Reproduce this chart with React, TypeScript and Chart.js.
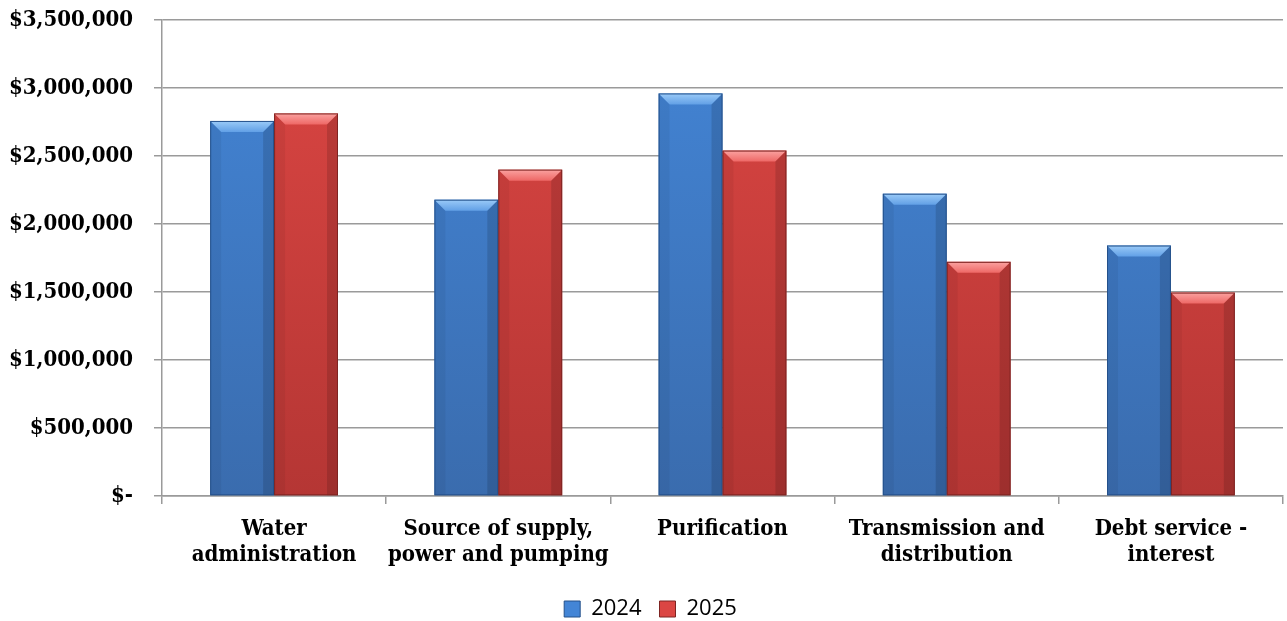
import { useEffect, useRef } from "react";
import { Chart, registerables } from "chart.js";

Chart.register(...registerables);

const categories: string[][] = [
  ["Water", "administration"],
  ["Source of supply,", "power and pumping"],
  ["Purification"],
  ["Transmission and", "distribution"],
  ["Debt service -", "interest"],
];
const seriesNames = ["2024", "2025"];
const values2024 = [2758000, 2179000, 2960000, 2223000, 1842000];
const values2025 = [2813000, 2400000, 2540000, 1722000, 1496000];
const yMax = 3500000;
const yStep = 500000;

const palettes = [
  { main: "#4385D6", bottom: "#3A6CAE", topLight: "#9BCBF8", top: "#62A0E6", dark: "#24508A" },
  { main: "#DB4643", bottom: "#B53634", topLight: "#FBA3A1", top: "#EE6866", dark: "#7E2422" },
];

const SERIF = "'DejaVu Serif Condensed', 'DejaVu Serif', serif";

const bevelPlugin = {
  id: "bevel",
  afterLayout(chart: any) {
    const lg = chart.legend;
    if (lg) {
      lg.left += 9;
      lg.right += 9;
    }
  },
  afterDatasetsDraw(chart: any) {
    const ctx = chart.ctx as CanvasRenderingContext2D;
    chart.data.datasets.forEach((_ds: any, di: number) => {
      const meta = chart.getDatasetMeta(di);
      const pal = palettes[di];
      meta.data.forEach((el: any) => {
        const { x, y, base, width } = el.getProps(["x", "y", "base", "width"], true);
        const l = x - width / 2;
        const r = x + width / 2;
        const t = y;
        const b = base;
        const bv = 11;
        ctx.save();
        // top bevel
        ctx.beginPath();
        ctx.moveTo(l, t);
        ctx.lineTo(r, t);
        ctx.lineTo(r - bv, t + bv);
        ctx.lineTo(l + bv, t + bv);
        ctx.closePath();
        const g = ctx.createLinearGradient(0, t, 0, t + bv);
        g.addColorStop(0, pal.topLight);
        g.addColorStop(1, pal.top);
        ctx.fillStyle = g;
        ctx.fill();
        // left bevel
        ctx.beginPath();
        ctx.moveTo(l, t);
        ctx.lineTo(l + bv, t + bv);
        ctx.lineTo(l + bv, b);
        ctx.lineTo(l, b);
        ctx.closePath();
        ctx.fillStyle = "rgba(0,0,0,0.05)";
        ctx.fill();
        // right bevel
        ctx.beginPath();
        ctx.moveTo(r, t);
        ctx.lineTo(r - bv, t + bv);
        ctx.lineTo(r - bv, b);
        ctx.lineTo(r, b);
        ctx.closePath();
        ctx.fillStyle = "rgba(0,0,0,0.13)";
        ctx.fill();
        // border
        ctx.strokeStyle = pal.dark;
        ctx.lineWidth = 1;
        ctx.strokeRect(l + 0.5, t + 0.5, width - 1, b - t - 1);
        ctx.restore();
      });
    });
  },
};

function makeFill(di: number) {
  return (c: any) => {
    const area = c.chart.chartArea;
    const pal = palettes[di];
    if (!area) return pal.main;
    const g = c.chart.ctx.createLinearGradient(0, area.top, 0, area.bottom);
    g.addColorStop(0, pal.main);
    g.addColorStop(1, pal.bottom);
    return g;
  };
}

export default function App() {
  const ref = useRef<HTMLCanvasElement | null>(null);

  useEffect(() => {
    if (!ref.current) return;
    const chart = new Chart(ref.current, {
      type: "bar",
      data: {
        labels: categories,
        datasets: [
          {
            label: seriesNames[0],
            data: values2024,
            backgroundColor: makeFill(0),
            categoryPercentage: 0.57,
            barPercentage: 1,
          },
          {
            label: seriesNames[1],
            data: values2025,
            backgroundColor: makeFill(1),
            categoryPercentage: 0.57,
            barPercentage: 1,
          },
        ],
      },
      plugins: [bevelPlugin],
      options: {
        animation: false,
        responsive: true,
        maintainAspectRatio: false,
        layout: { padding: { top: 20, right: 4, left: 0, bottom: -9 } },
        plugins: {
          tooltip: { enabled: false },
          legend: {
            position: "bottom",
            labels: {
              boxWidth: 16,
              boxHeight: 16,
              padding: 18,
              color: "#000",
              font: { family: "'Open Sans', 'Liberation Sans', sans-serif", size: 22 },
              generateLabels: () =>
                seriesNames.map((n, i) => ({
                  text: n,
                  fillStyle: palettes[i].main,
                  strokeStyle: palettes[i].dark,
                  lineWidth: 1,
                  datasetIndex: i,
                  hidden: false,
                })),
            },
          },
        },
        scales: {
          x: {
            afterFit: (s: any) => {
              s.paddingLeft = 0;
              s.paddingRight = 0;
            },
            grid: {
              drawOnChartArea: false,
              drawTicks: true,
              tickLength: 8,
              color: "#9a9a9a",
              lineWidth: 1.5,
            },
            border: { display: true, color: "#9a9a9a", width: 1.5 },
            ticks: {
              color: "#000",
              padding: 12,
              maxRotation: 0,
              autoSkip: false,
              font: { family: SERIF, size: 22, weight: "bold", lineHeight: 1.18 },
            },
          },
          y: {
            min: 0,
            max: yMax,
            afterFit: (s: any) => {
              s.width = 162;
              s.paddingTop = 0;
              s.paddingBottom = 0;
            },
            grid: {
              color: "#9a9a9a",
              lineWidth: 1.5,
              tickLength: 8,
            },
            border: { display: true, color: "#9a9a9a", width: 1.5 },
            ticks: {
              stepSize: yStep,
              color: "#000",
              padding: 21,
              font: { family: SERIF, size: 22, weight: "bold" },
              callback: (v: any) =>
                Number(v) === 0 ? "$-" : "$" + Number(v).toLocaleString("en-US"),
            },
          },
        },
      },
    });
    return () => chart.destroy();
  }, []);

  return (
    <div style={{ position: "fixed", left: 0, top: 0, width: 1287, height: 621, background: "#fff" }}>
      <canvas ref={ref} />
    </div>
  );
}
